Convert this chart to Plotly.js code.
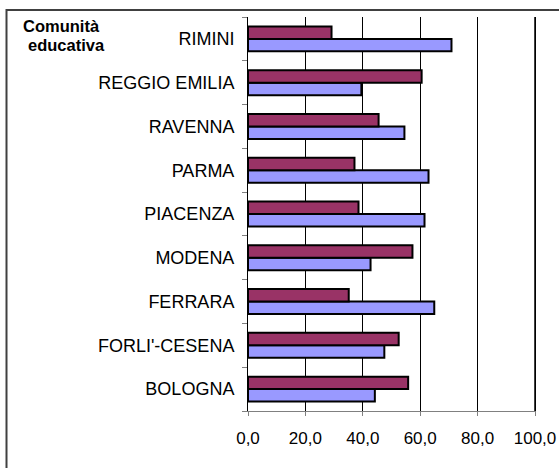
<!DOCTYPE html>
<html>
<head>
<meta charset="utf-8">
<script src="https://cdn.plot.ly/plotly-3.0.1.min.js"></script>
<style>html,body{margin:0;padding:0;background:#fff;}#chart{width:559px;height:468px;}</style>
</head>
<body>
<div id="chart"></div>
<script>
const categories = ["BOLOGNA", "FORLI'-CESENA", "FERRARA", "MODENA", "PIACENZA", "PARMA", "RAVENNA", "REGGIO EMILIA", "RIMINI"];
const seriesMaroon = [55.8, 52.5, 35.1, 57.3, 38.5, 37.1, 45.5, 60.5, 29.1];
const seriesBlue = [44.2, 47.5, 64.9, 42.7, 61.5, 62.9, 54.5, 39.5, 70.9];
const xTickVals = [0, 20, 40, 60, 80, 100];
const xTickText = ["0,0", "20,0", "40,0", "60,0", "80,0", "100,0"];

const W = 559, H = 468;
const L = 248, R = 24, T = 17.4, B = 57.3;
const pw = W - L - R, ph = H - T - B;
const px = x => (x - L) / pw;
const py = y => (H - B - y) / ph;

const traces = [
  {type: 'bar', orientation: 'h', y: categories, x: seriesBlue, name: 'B',
   marker: {color: '#9999FF', line: {color: '#000', width: 2}}, hoverinfo: 'none'},
  {type: 'bar', orientation: 'h', y: categories, x: seriesMaroon, name: 'A',
   marker: {color: '#993366', line: {color: '#000', width: 2}}, hoverinfo: 'none'}
];

const layout = {
  width: W, height: H,
  margin: {l: L, r: R, t: T, b: B, pad: 0},
  paper_bgcolor: '#fff', plot_bgcolor: '#fff',
  showlegend: false,
  barmode: 'group', bargap: 0.43, bargroupgap: 0,
  font: {family: 'Liberation Sans, Arial, sans-serif', color: '#000'},
  xaxis: {
    range: [0, 100], tickvals: xTickVals, ticktext: xTickText,
    showgrid: true, gridcolor: '#000', gridwidth: 1,
    zeroline: false, showline: true, linecolor: '#808080', linewidth: 1,
    ticks: 'outside', ticklen: 4, tickcolor: '#808080', tickwidth: 1,
    tickfont: {size: 17, color: '#000'}, ticklabelstandoff: 8, fixedrange: true
  },
  yaxis: {
    type: 'category', categoryorder: 'array', categoryarray: categories,
    showgrid: false, zeroline: false, showline: true, mirror: true, linecolor: '#000', linewidth: 1,
    ticks: 'outside', ticklen: 5, tickcolor: '#808080', tickwidth: 1, tickson: 'boundaries',
    tickfont: {size: 18, color: '#000'}, ticklabelstandoff: 9, fixedrange: true
  },
  shapes: [
    {type: 'line', xref: 'paper', yref: 'paper', x0: 1, x1: 1, y0: 0, y1: 1,
     line: {color: '#000', width: 1.5}, layer: 'above'},
    {type: 'rect', xref: 'paper', yref: 'paper', x0: px(6.5), x1: px(600), y0: py(10.5), y1: py(520),
     line: {color: '#404040', width: 2}, fillcolor: 'rgba(0,0,0,0)', layer: 'above'}
  ],
  annotations: [
    {xref: 'paper', yref: 'paper', x: px(22), y: py(26.5), xanchor: 'left', yanchor: 'middle',
     text: '<b>Comunità</b>', showarrow: false, borderpad: 0, font: {size: 16.5, color: '#000'}},
    {xref: 'paper', yref: 'paper', x: px(26.5), y: py(45.5), xanchor: 'left', yanchor: 'middle',
     text: '<b>educativa</b>', showarrow: false, borderpad: 0, font: {size: 16.5, color: '#000'}}
  ]
};

Plotly.newPlot('chart', traces, layout, {displayModeBar: false, staticPlot: true});
</script>
</body>
</html>
